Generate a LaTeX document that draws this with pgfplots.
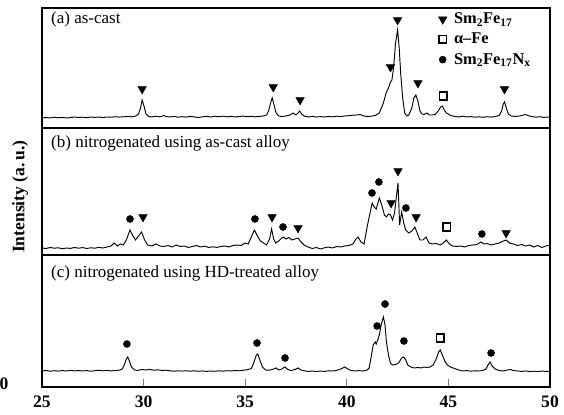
\documentclass[border=0pt]{standalone}
\usepackage{fontspec}
\setmainfont{Liberation Serif}
\usepackage{pgfplots}
\pgfplotsset{compat=1.18}

\pgfplotsset{
  xrd/.style={
    scale only axis, width=15.24cm,
    xmin=25, xmax=50, ymin=0,
    axis line style={line width=1pt},
    xtick=\empty, ytick=\empty,
    clip=false,
  },
  trace/.style={black, line width=0.8pt, mark=none},
  tri/.style={only marks, mark=triangle*, mark size=4.2pt, mark options={rotate=180, fill=black, draw=black}},
  dot/.style={only marks, mark=*, mark size=3pt, mark options={fill=black, draw=black}},
  sq/.style={only marks, mark=square, mark size=3.2pt, mark options={draw=black, line width=1.3pt}},
}
\newcommand{\lab}{\fontsize{14.5}{17}\selectfont}

\begin{document}
\begin{tikzpicture}
\useasboundingbox (-1.26,-0.84) rectangle (15.66,11.61);

% (c) bottom panel
\begin{axis}[xrd, at={(0,0)}, anchor=south west, height=3.96cm, ymax=132,
  xtick={25,30,35,40,45,50},
  xtick pos=bottom, tick align=inside, major tick length=0.25cm,
  xtick style={line width=0.8pt},
  /pgf/number format/assume math mode=true,
  xticklabel style={font=\fontsize{15}{18}\selectfont\bfseries, yshift=-4pt},
]
\addplot[trace] table {
25.0 16
25.2 16.5
25.4 15.8
25.6 16.3
25.8 15.9
26.0 16.4
26.2 16
26.4 16.6
26.6 16.1
26.8 16.5
27.0 16
27.2 16.4
27.4 15.8
27.6 16.3
27.8 16.7
28.0 16.2
28.2 16.6
28.4 16.1
28.6 16.5
28.8 16.8
28.95 18
29.05 22
29.15 28
29.22 30
29.3 26
29.4 20
29.55 17
29.7 16.5
29.9 17.5
30.1 17
30.3 17.6
30.5 16.8
30.7 17.2
30.9 16.5
31.1 16.8
31.3 16.2
31.5 15.8
31.7 16.2
31.9 15.9
32.1 16.3
32.3 15.8
32.5 16.2
32.7 15.7
32.9 16.1
33.1 15.6
33.3 16
33.5 15.7
33.7 16.2
33.9 15.8
34.1 16.3
34.3 16
34.5 16.5
34.7 16.2
34.9 16.8
35.1 17.2
35.3 18.5
35.42 24
35.55 32
35.62 33
35.72 27
35.85 20
36.0 17
36.2 16.8
36.4 18
36.52 19
36.65 17
36.8 18
36.95 20
37.1 17.5
37.25 16.5
37.45 17.5
37.6 19
37.75 17
37.9 16.2
38.1 15.6
38.3 16
38.5 15.5
38.7 15.9
38.9 15.6
39.1 16.2
39.3 16
39.5 16.6
39.7 18
39.9 20
40.05 18
40.2 16.5
40.4 16
40.6 16.4
40.8 16
41.0 17
41.1 19
41.2 30
41.3 42
41.4 45
41.45 43
41.52 47
41.6 52
41.7 63
41.8 70
41.88 62
41.95 45
42.05 32
42.15 24
42.25 22
42.4 22.5
42.55 24
42.7 29
42.8 30
42.9 27
43.0 22
43.15 20
43.3 19
43.5 19.5
43.65 19
43.8 20
43.95 19.5
44.1 20
44.25 22
44.4 28
44.52 35
44.6 37
44.7 32
44.82 26
44.95 22
45.1 20
45.3 18.5
45.5 17
45.7 16
45.9 16.4
46.1 15.8
46.3 16.2
46.5 16
46.7 16.5
46.85 18
46.95 22
47.05 25
47.15 21
47.3 18
47.5 16.5
47.7 16
47.9 17
48.05 17.5
48.2 16.5
48.4 16
48.6 15.6
48.8 16
49.0 15.5
49.2 15.8
49.4 15.4
49.6 15.9
49.8 15.6
50.0 15.8
};
\addplot[dot] coordinates {(29.18,43) (35.58,44) (36.96,29) (41.49,61) (41.88,83) (42.81,46) (47.1,34)};
\addplot[sq] coordinates {(44.59,49)};
\node[anchor=west, font=\lab] at (axis description cs:0.01,0.864) {(c) nitrogenated using HD-treated alloy};
\node[font=\fontsize{15}{18}\selectfont\bfseries] at (axis description cs:-0.075,0.025) {0};
\end{axis}

% (b) middle panel
\begin{axis}[xrd, at={(0,3.96cm)}, anchor=south west, height=3.81cm, ymax=127,
  ylabel={Intensity (a.\,u.)},
  ylabel style={at={(axis description cs:-0.043,0.46)}, anchor=center,
                font=\fontsize{15}{18}\selectfont\bfseries},
]
\addplot[trace] table {
25.0 7
25.2 6.5
25.4 7.5
25.6 6.8
25.8 7.2
26.0 6.3
26.2 7
26.4 6.6
26.6 7.5
26.8 6.8
27.0 7.4
27.2 6.5
27.4 7.2
27.6 6.8
27.8 7.6
28.0 7
28.2 8
28.4 9
28.55 12
28.7 9
28.85 11
29.0 10
29.15 15
29.33 25
29.45 20
29.6 15
29.75 19
29.9 23
30.05 15
30.2 10
30.4 9
30.6 11
30.8 9
31.0 8.5
31.2 9.5
31.4 8
31.6 10
31.8 8.5
32.0 9
32.2 7.5
32.4 8.5
32.6 9.5
32.8 8
33.0 8.8
33.2 7.5
33.4 8.2
33.6 7.6
33.8 8.5
34.0 9
34.2 8
34.4 9.5
34.6 10
34.8 9.5
35.0 12
35.15 11
35.3 18
35.45 25
35.6 19
35.75 14
35.9 12
36.05 10
36.2 16
36.3 26
36.4 16
36.5 12
36.65 14
36.8 17
36.9 18
37.0 16
37.15 17.5
37.3 15
37.45 16
37.6 17
37.75 13
37.9 10
38.1 8
38.3 6.5
38.5 7.5
38.7 6
38.9 7.2
39.1 8
39.3 7
39.5 8.5
39.7 8
39.9 9
40.1 9.5
40.3 11
40.45 16
40.55 18
40.7 13
40.85 11
41.0 28
41.1 38
41.25 52
41.35 48
41.45 46
41.6 57
41.72 50
41.85 40
41.95 38
42.05 41
42.15 40
42.25 35
42.35 42
42.45 60
42.52 72
42.6 30
42.7 43
42.8 32
42.9 25
43.05 22
43.2 24
43.35 28
43.5 20
43.6 15
43.75 15
43.9 18
44.05 12
44.2 11
44.4 11.5
44.6 10
44.75 12
44.9 15
45.05 11
45.2 9
45.4 8.5
45.6 9
45.8 8
46.0 9.5
46.2 10
46.4 10.5
46.6 13
46.75 11
46.9 11.5
47.1 10
47.3 11
47.5 12
47.7 14
47.85 15
48.0 12
48.2 11
48.4 9.5
48.6 10.5
48.8 9
49.0 10
49.2 8
49.4 9.5
49.6 7.5
49.8 9
50.0 10
};
\addplot[dot] coordinates {(29.33,36) (35.48,36) (36.86,28) (41.24,62) (41.58,73) (42.91,47) (46.65,21)};
\addplot[tri] coordinates {(29.97,38) (36.32,38) (37.6,27) (42.18,52) (42.52,84) (43.41,38) (47.84,22)};
\addplot[sq] coordinates {(44.93,28)};
\node[anchor=west, font=\lab] at (axis description cs:0.01,0.88) {(b) nitrogenated using as-cast alloy};
\end{axis}

% (a) top panel
\begin{axis}[xrd, at={(0,7.77cm)}, anchor=south west, height=3.6cm, ymax=120,
  legend style={at={(0.78,0.98)}, anchor=north west, draw=none, fill=none,
                font=\fontsize{14}{15}\selectfont\bfseries, inner sep=0pt,
                row sep=2.5pt,
                /tikz/every odd column/.append style={column sep=4pt}},
  legend cell align=left,
]
\addplot[trace, forget plot] table {
25.0 10
25.2 10.5
25.4 10
25.6 10.8
25.8 10.2
26.0 10.6
26.2 10
26.4 10.4
26.6 11
26.8 10.5
27.0 10.8
27.2 10.3
27.4 11
27.6 10.6
27.8 10.9
28.0 10.4
28.2 11
28.4 10.8
28.6 11.3
28.8 10.9
29.0 11.2
29.2 11.5
29.4 11.2
29.6 11.8
29.75 14
29.85 20
29.93 28
30.02 22
30.12 14
30.25 11.5
30.4 11
30.6 11.8
30.8 11.2
31.0 12.5
31.1 11.5
31.3 11
31.5 11.6
31.7 10.8
31.9 11.3
32.1 10.9
32.3 11.6
32.5 11
32.7 10.5
32.9 11.2
33.1 11.6
33.3 11
33.5 11.8
33.7 11.3
33.9 11.8
34.1 11.2
34.3 11.6
34.5 11
34.7 11.5
34.9 11.9
35.1 11.3
35.3 11.7
35.5 11.2
35.7 11.6
35.9 12
36.05 13
36.15 17
36.25 25
36.33 30
36.42 23
36.52 15
36.65 12
36.8 11.5
37.0 12
37.2 13
37.36 15
37.5 13
37.6 15
37.68 17
37.78 14
37.9 12
38.1 11
38.3 11.6
38.5 11
38.7 11.4
38.9 11
39.1 11.5
39.3 11.2
39.5 11.8
39.7 11.4
39.9 12
40.1 12.3
40.3 12.8
40.5 13
40.66 13.5
40.8 12.2
41.0 11.5
41.2 11.8
41.4 12.5
41.6 15
41.8 25
41.95 36
42.05 40
42.15 46
42.22 48
42.3 60
42.4 85
42.5 98
42.58 80
42.65 55
42.75 30
42.85 15
42.95 12
43.05 13
43.2 20
43.3 30
43.4 33
43.5 27
43.6 17
43.7 14
43.8 13.5
43.95 15
44.05 13
44.2 13
44.35 13.5
44.5 17
44.62 21
44.7 22
44.8 18
44.9 15
45.0 14
45.1 12.5
45.3 11.6
45.5 11
45.7 11.8
45.9 11
46.1 11.4
46.3 10.8
46.5 11.2
46.7 10.7
46.9 11.3
47.1 10.9
47.3 11.5
47.5 12.5
47.62 17
47.7 24
47.76 26
47.85 20
47.95 14
48.1 12
48.3 11.5
48.5 12
48.7 13
48.8 13.5
48.95 12.2
49.1 11.5
49.3 10.8
49.5 11.3
49.7 10.6
49.9 11
50.0 10.8
};
\addplot[tri] coordinates {(29.93,39) (36.38,41) (37.7,28) (42.15,61) (42.5,108) (43.5,45) (47.76,39)};
\addlegendentry{Sm\textsubscript{2}Fe\textsubscript{17}}
\addplot[sq] coordinates {(44.75,32)};
\addlegendentry{α–Fe}
\addlegendimage{dot}
\addlegendentry{Sm\textsubscript{2}Fe\textsubscript{17}N\textsubscript{x}}
\node[anchor=west, font=\lab] at (axis description cs:0.01,0.908) {(a) as-cast};
\end{axis}
\end{tikzpicture}
\end{document}
